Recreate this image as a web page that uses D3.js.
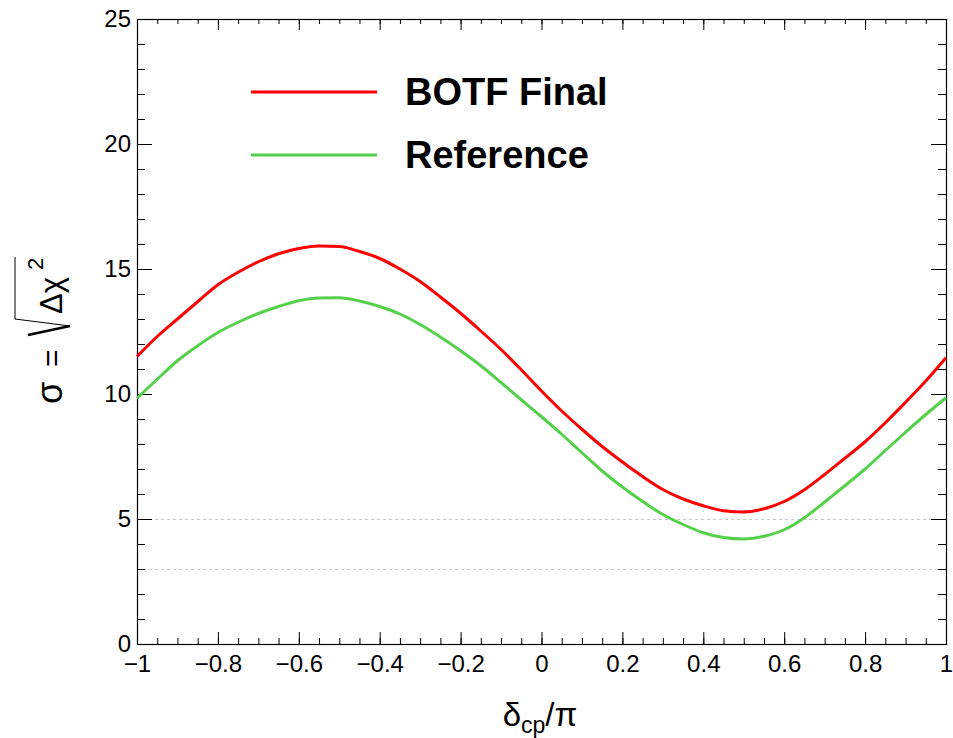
<!DOCTYPE html>
<html>
<head>
<meta charset="utf-8">
<script src="https://cdn.jsdelivr.net/npm/d3@7"></script>
<style>
  body { margin: 0; background: #fff; }
  text { font-family: "Liberation Sans", Arial, Helvetica, sans-serif; fill: #000; }
  .tick text { font-size: 24px; }
  .tick line { stroke: #000; }
</style>
</head>
<body>
<div id="Chart"></div>
<script>
const deltaCP = [-1.00, -0.95, -0.90, -0.85, -0.80, -0.75, -0.70, -0.65, -0.60, -0.55,
                 -0.50, -0.45, -0.40, -0.35, -0.30, -0.25, -0.20, -0.15, -0.10, -0.05,
                  0.00,  0.05,  0.10,  0.15,  0.20,  0.25,  0.30,  0.35,  0.40,  0.45,
                  0.50,  0.55,  0.60,  0.65,  0.70,  0.75,  0.80,  0.85,  0.90,  0.95, 1.00];
const botfFinal = [11.50, 12.30, 13.00, 13.69, 14.37, 14.87, 15.29, 15.61, 15.82, 15.92,
                   15.90, 15.70, 15.42, 15.00, 14.50, 13.88, 13.23, 12.52, 11.78, 10.97,
                   10.12,  9.32,  8.59,  7.90,  7.28,  6.70,  6.18,  5.80,  5.53,  5.33,
                    5.28,  5.41,  5.70,  6.17,  6.78,  7.43,  8.09,  8.85,  9.67, 10.52, 11.45];
const reference = [ 9.83, 10.59, 11.33, 11.93, 12.46, 12.87, 13.22, 13.50, 13.73, 13.84,
                   13.85, 13.72, 13.50, 13.20, 12.78, 12.28, 11.73, 11.13, 10.46,  9.77,
                    9.09,  8.39,  7.65,  6.92,  6.28,  5.70,  5.18,  4.78,  4.45,  4.26,
                    4.20,  4.31,  4.57,  5.05,  5.68,  6.33,  7.00,  7.74,  8.47,  9.18, 9.85];
const xTicks = [-1, -0.8, -0.6, -0.4, -0.2, 0, 0.2, 0.4, 0.6, 0.8, 1];
const yTicks = [0, 5, 10, 15, 20, 25];
const sigmaLevels = [3, 5];
const series = [
  {name: "BOTF Final", values: botfFinal, color: "#ff0000"},
  {name: "Reference",  values: reference, color: "#55d04a"}
];

const dim = {width: 953, height: 738, left: 137, top: 19, w: 809, h: 625};

const svg = d3.select("#Chart").append("svg")
  .attr("width", dim.width)
  .attr("height", dim.height);

const scale = {
  x: d3.scaleLinear([-1, 1], [0, dim.w]),
  y: d3.scaleLinear([0, 25], [dim.h, 0])
};

const chart = svg.append("g")
  .attr("transform", `translate(${dim.left} ${dim.top})`);

// dashed guide lines at 3 and 5 sigma
chart.selectAll("line.level").data(sigmaLevels).join("line")
  .attr("class", "level")
  .attr("x1", 0).attr("x2", dim.w)
  .attr("y1", d => scale.y(d) + 0.5).attr("y2", d => scale.y(d) + 0.5)
  .attr("stroke", "#c8c8c8")
  .attr("stroke-dasharray", "3 3");

const minorX = d3.range(-1, 1.0001, 0.05);
const minorY = d3.range(0, 25.0001, 1);
const fmtX = d => String(d).replace("-", "\u2212");

// bottom / top
chart.append("g").attr("transform", `translate(0 ${dim.h})`)
  .call(d3.axisBottom(scale.x).tickValues(minorX).tickFormat("").tickSizeInner(-6).tickSizeOuter(0));
chart.append("g").attr("transform", `translate(0 ${dim.h})`)
  .call(d3.axisBottom(scale.x).tickValues(xTicks).tickFormat(fmtX).tickSizeInner(-12).tickSizeOuter(0).tickPadding(11));
chart.append("g")
  .call(d3.axisTop(scale.x).tickValues(minorX).tickFormat("").tickSizeInner(-5).tickSizeOuter(0));
chart.append("g")
  .call(d3.axisTop(scale.x).tickValues(xTicks).tickFormat("").tickSizeInner(-11).tickSizeOuter(0));

// left / right
chart.append("g")
  .call(d3.axisLeft(scale.y).tickValues(minorY).tickFormat("").tickSizeInner(-8).tickSizeOuter(0));
chart.append("g")
  .call(d3.axisLeft(scale.y).tickValues(yTicks).tickSizeInner(-15).tickSizeOuter(0).tickPadding(6));
chart.append("g").attr("transform", `translate(${dim.w} 0)`)
  .call(d3.axisRight(scale.y).tickValues(minorY).tickFormat("").tickSizeInner(-8).tickSizeOuter(0));
chart.append("g").attr("transform", `translate(${dim.w} 0)`)
  .call(d3.axisRight(scale.y).tickValues(yTicks).tickFormat("").tickSizeInner(-15).tickSizeOuter(0));

chart.selectAll(".domain").remove();
chart.selectAll(".tick text").attr("font-family", null);

chart.append("rect")
  .attr("x", 0.5).attr("y", 0.5)
  .attr("width", dim.w).attr("height", dim.h)
  .attr("fill", "none").attr("stroke", "#000").attr("stroke-width", 1.2);

// curves
const line = d3.line()
  .x((d, i) => scale.x(deltaCP[i]))
  .y(d => scale.y(d))
  .curve(d3.curveMonotoneX);
chart.selectAll("path.dataline").data(series).join("path")
  .attr("class", "dataline")
  .attr("fill", "none")
  .attr("stroke", d => d.color)
  .attr("stroke-width", 3)
  .attr("stroke-linejoin", "round")
  .attr("d", d => line(d.values));

// legend
const legend = svg.append("g");
const legY = [92, 155];
series.forEach((s, i) => {
  legend.append("line")
    .attr("x1", 251).attr("x2", 377)
    .attr("y1", legY[i]).attr("y2", legY[i])
    .attr("stroke", s.color).attr("stroke-width", 3);
  legend.append("text")
    .attr("x", 405).attr("y", legY[i] + 13)
    .attr("font-size", 38).attr("font-weight", "bold")
    .text(s.name);
});

// x title
const xt = svg.append("text")
  .attr("x", 540).attr("y", 726)
  .attr("text-anchor", "middle")
  .attr("font-size", 33);
xt.append("tspan").text("\u03b4");
xt.append("tspan").attr("font-size", 23).attr("dy", 7).text("cp");
xt.append("tspan").attr("dy", -7).text("/\u03c0");

// y title: sigma = sqrt(Delta chi^2)
const yt = svg.append("g").attr("transform", "translate(62 403) rotate(-90)");
yt.append("text").attr("x", -1).attr("y", 0).attr("font-size", 36).text("\u03c3");
yt.append("text").attr("x", 36).attr("y", 0).attr("font-size", 30).text("=");
yt.append("path")
  .attr("d", "M68,-34 L77,8")
  .attr("stroke", "#000").attr("stroke-width", 2.6).attr("fill", "none");
yt.append("path")
  .attr("d", "M77,8 L84,-47 L146,-47")
  .attr("stroke", "#000").attr("stroke-width", 1).attr("fill", "none");
yt.append("text").attr("x", 89).attr("y", 0).attr("font-size", 31).text("\u0394\u03c7");
yt.append("text").attr("x", 133).attr("y", -19).attr("font-size", 22).text("2");
</script>
</body>
</html>
